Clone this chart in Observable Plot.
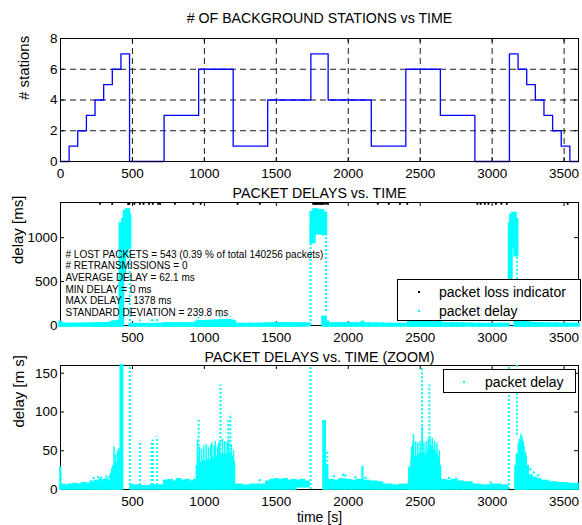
<!DOCTYPE html>
<html><head><meta charset="utf-8">
<script src="https://cdn.jsdelivr.net/npm/d3@7"></script>
<script src="https://cdn.jsdelivr.net/npm/@observablehq/plot@0.6"></script>
<style>
body{margin:0;background:#fff;}
#wrap{position:relative;width:582px;height:525px;overflow:hidden;background:#fff;font-family:"Liberation Sans",Arial,sans-serif;}
.panel{position:absolute;left:0;}
.legend{position:absolute;border:1px solid #000;background:#fff;box-sizing:border-box;}
.legend .mk{position:absolute;width:2px;height:2px;}
.legend .tx{position:absolute;font-size:14px;line-height:16px;white-space:nowrap;color:#000;}
</style></head><body><div id="wrap"></div>
<script>
// ---------- data ----------
const titles = ["# OF BACKGROUND STATIONS vs TIME", "PACKET DELAYS vs. TIME", "PACKET DELAYS vs. TIME (ZOOM)"];
const yLabels = ["# stations", "delay [ms]", "delay [m s]"];
const xLabel = "time [s]";

const xTicksTop = [0, 500, 1000, 1500, 2000, 2500, 3000, 3500];
const xTicksLower = [500, 1000, 1500, 2000, 2500, 3000, 3500];
const yTicksStations = [0, 2, 4, 6, 8];
const yTicksDelay = [0, 500, 1000];
const yTicksZoom = [0, 50, 100, 150];

const stationTimes  = [0, 60, 120, 180, 240, 300, 360, 420, 480, 720, 960, 1200, 1440, 1740, 1860, 2160, 2400, 2640, 2880, 3120, 3180, 3240, 3300, 3360, 3420, 3480, 3540, 3600];
const stationCounts = [0, 1, 2, 3, 4, 5, 6, 7, 0, 3, 6, 1, 4, 7, 4, 1, 6, 3, 0, 7, 6, 5, 4, 3, 2, 1, 0, 0];

// dense clouds of packet delays: [t start, t end, low ms, high ms]
const delayBands = [
  [0,4,0,28],[4,30,0,6],[30,60,0,5],[60,90,0,6],[90,120,0,7],[120,150,0,6],[150,180,0,8],[180,210,0,7],
  [210,225,0,10],[225,240,0,8],[240,255,0,11],[255,270,0,9],[270,285,0,12],[285,300,0,10],[300,315,0,12],
  [315,330,0,13],[330,350,0,11],[350,360,0,20],[360,368,0,26],[368,376,0,30],[376,384,0,28],[384,392,0,33],
  [392,400,0,30],[400,408,0,34],[408,419,0,32],
  [419,435,0,1150],[436,448,600,1200],[448,462,800,1290],[462,476,880,1310],[476,484,900,1250],
  [488,500,0,6],[500,560,0,5],[560,620,0,4],[620,680,0,5],[680,720,0,5],
  [720,750,0,11],[750,780,0,12],[780,810,0,10],[810,840,0,13],[840,870,0,11],[870,900,0,12],[900,930,0,10],[930,948,0,12],
  [948,960,0,30],[960,975,0,34],[975,990,0,30],[990,1005,0,36],[1005,1020,0,32],[1020,1035,0,38],[1035,1050,0,35],
  [1050,1065,0,40],[1065,1080,0,36],[1080,1095,0,42],[1095,1110,0,38],[1110,1125,0,44],[1125,1140,0,40],
  [1140,1155,0,45],[1155,1170,0,40],[1170,1185,0,46],[1185,1200,0,42],[1200,1212,0,35],
  [1212,1260,0,6],[1260,1320,0,5],[1320,1380,0,6],[1380,1430,0,6],
  [1430,1460,0,10],[1460,1490,0,12],[1490,1520,0,13],[1520,1550,0,12],[1550,1580,0,13],[1580,1610,0,11],
  [1610,1640,0,12],[1640,1670,3,11],[1670,1700,3,12],[1700,1730,3,10],
  [1746,1765,950,1280],[1765,1785,1080,1310],[1785,1805,1050,1290],[1805,1825,1070,1300],[1825,1845,1040,1270],
  [1828,1843,0,88],[1843,1860,0,30],
  [1860,1900,0,12],[1900,1940,0,11],[1940,1980,0,13],[1980,2020,0,12],[2020,2060,0,11],[2060,2100,0,12],
  [2100,2104,0,29],[2104,2150,0,11],[2150,2200,0,10],[2200,2241,0,9],[2241,2300,0,6],[2300,2360,0,5],[2360,2425,0,6],
  [2425,2440,0,28],[2440,2455,0,38],[2455,2470,0,42],[2470,2485,0,40],[2485,2500,0,44],[2500,2515,0,46],
  [2515,2530,0,45],[2530,2545,0,42],[2545,2560,0,46],[2560,2575,0,52],[2575,2590,0,55],[2590,2605,0,50],
  [2605,2620,0,45],[2620,2635,0,40],[2635,2644,0,30],
  [2644,2680,0,12],[2680,2720,0,11],[2720,2760,0,12],[2760,2800,0,10],[2800,2863,0,9],[2863,2920,0,6],
  [2920,3000,0,5],[3000,3060,0,6],[3060,3112,0,5],
  [3124,3134,500,1150],[3134,3148,900,1250],[3148,3162,950,1270],[3162,3174,800,1200],
  [3162,3172,0,30],[3172,3185,0,45],[3185,3198,0,58],[3198,3212,0,62],[3212,3225,0,55],[3225,3240,0,42],[3240,3254,0,30],
  [3254,3280,0,18],[3280,3310,0,15],[3310,3340,0,13],[3340,3393,0,11],[3393,3450,0,9],[3450,3520,0,8],[3520,3600,0,7]
];
// dense vertical streaks: [t, high ms]
const delayStreaks = [
  [372,55],[380,45],[395,50],[405,53],[412,48],
  [952,64],[965,55],[980,52],[996,56],[1012,58],[1028,54],[1044,57],[1052,60],[1068,56],[1076,62],[1092,55],
  [1100,60],[1108,63],[1126,65],[1142,62],[1158,60],[1168,64],[1186,58],[1202,50],
  [2440,55],[2448,60],[2453,71],[2468,62],[2484,60],[2500,62],[2514,80],[2526,60],[2542,62],[2556,65],[2568,68],
  [2584,66],[2600,62],[2616,60],[2632,50],
  [3190,65],[3200,71],[3208,68],[3216,62],[3232,48]
];
// sparse dotted columns: [t, low ms, high ms]
const delayDotted = [
  [482,0,1250],[552,0,62],[633,0,62],[642,0,64],[672,0,68],[960,30,92],[1112,40,135],[1166,45,90],[1180,45,97],
  [1738,0,1150],[1846,160,1050],[1854,30,49],[2512,45,157],[2563,50,135],[3116,0,1000],[3172,70,800]
];
// isolated packets: [t, ms]
const delayDots = [
  [0,20],[2,14],[230,15],[262,16],[281,15],[320,17],[340,16],[1385,12],[1900,17],[1965,19],[1980,18],
  [2050,16],[2120,15],[2700,15],[2750,14],[2990,9],[3265,26],[3290,22],[3320,18]
];
const lossTimes = [275,359,470,474,478,513,551,577,615,641,679,692,795,923,974,1231,1385,1756,1765,1772,1780,
  1788,1796,1805,1812,1820,1830,1845,1859,2205,2282,2359,2410,2897,2920,2949,2974,3026,3064,3102,3525];
const lossLevel = 1385;

const statsLines = [
  "# LOST PACKETS = 543 (0.39 % of total 140256 packets)",
  "# RETRANSMISSIONS = 0",
  "AVERAGE DELAY = 62.1 ms",
  "MIN DELAY = 0 ms",
  "MAX DELAY = 1378 ms",
  "STANDARD DEVIATION = 239.8 ms"
];
const legendMid = [{label: "packet loss indicator", color: "#000"}, {label: "packet delay", color: "#00ffff"}];
const legendZoom = [{label: "packet delay", color: "#00ffff"}];

// ---------- drawing ----------
const cyan = "#00ffff", blue = "#0000ff";
const FONT = '"Liberation Sans", Arial, sans-serif';
const W = 582, ML = 60, MR = 4;
const wrap = document.getElementById("wrap");

function frameMarks(xTicks, yTicks, fw, fh) {
  return [
    Plot.tickX(xTicks, {x: d => d, insetTop: fh - 4, stroke: "#000"}),
    Plot.tickX(xTicks, {x: d => d, insetBottom: fh - 4, stroke: "#000"}),
    Plot.tickY(yTicks, {y: d => d, insetRight: fw - 4, stroke: "#000"}),
    Plot.tickY(yTicks, {y: d => d, insetLeft: fw - 4, stroke: "#000"})
  ];
}
function labelMarks(xTicks, yTicks, title, titleDy, ylabel, ylabelDx) {
  return [
    Plot.text(xTicks, {x: d => d, frameAnchor: "bottom", lineAnchor: "middle", dy: 12, text: d => String(d), fontSize: 13.5, fill: "#000"}),
    Plot.text(yTicks, {y: d => d, frameAnchor: "left", dx: -3, textAnchor: "end", text: d => String(d), fontSize: 13.5, fill: "#000"}),
    Plot.text([title], {frameAnchor: "top", lineAnchor: "middle", dy: titleDy, fontSize: 14.2, fill: "#000"}),
    Plot.text([ylabel], {frameAnchor: "left", dx: ylabelDx, rotate: -90, fontSize: 15, fill: "#000"})
  ];
}
function delayMarks(ymax, sw) {
  const cl = v => Math.min(v, ymax);
  return [
    Plot.rect(delayBands.filter(d => d[2] < ymax), {x1: d => d[0], x2: d => d[1], y1: d => d[2], y2: d => cl(d[3]), fill: cyan, stroke: cyan, strokeWidth: sw}),
    Plot.ruleX(delayStreaks, {x: d => d[0], y1: 0, y2: d => cl(d[1]), stroke: cyan, strokeWidth: 1.5}),
    Plot.ruleX(delayDotted.filter(d => d[1] < ymax), {x: d => d[0], y1: d => d[1], y2: d => cl(d[2]), stroke: cyan, strokeWidth: 2, strokeDasharray: "2,2"}),
    Plot.dot(delayDots, {x: d => d[0], y: d => d[1], r: 1.2, fill: cyan})
  ];
}
function place(svg, top) {
  const d = document.createElement("div");
  d.className = "panel"; d.style.top = top + "px";
  d.appendChild(svg); wrap.appendChild(d);
}
const style = {fontFamily: FONT, background: "transparent", overflow: "visible"};

// panel 1
{
  const H = 183, MT = 38, MB = 22, fw = W - ML - MR, fh = H - MT - MB;
  const stations = stationTimes.map((t, i) => ({t, n: stationCounts[i]}));
  const svg = Plot.plot({
    width: W, height: H, marginLeft: ML, marginRight: MR, marginTop: MT, marginBottom: MB, style,
    x: {domain: [0, 3600], axis: null}, y: {domain: [0, 8], axis: null},
    marks: [
      Plot.ruleX(xTicksTop.filter(d => d > 0), {x: d => d, stroke: "#000", strokeDasharray: "6,4", strokeWidth: 0.9}),
      Plot.ruleY(yTicksStations.filter(d => d > 0 && d < 8), {y: d => d, stroke: "#000", strokeDasharray: "6,4", strokeWidth: 0.9}),
      Plot.line(stations, {x: "t", y: "n", curve: "step-after", stroke: blue, strokeWidth: 1.3}),
      Plot.frame({stroke: "#000"}),
      ...frameMarks(xTicksTop, yTicksStations, fw, fh),
      ...labelMarks(xTicksTop, yTicksStations, titles[0], -20, yLabels[0], -36)
    ]
  });
  place(svg, 0);
}
// panel 2
{
  const H = 167, MT = 19, MB = 25, fw = W - ML - MR, fh = H - MT - MB;
  const svg = Plot.plot({
    width: W, height: H, marginLeft: ML, marginRight: MR, marginTop: MT, marginBottom: MB, style,
    x: {domain: [0, 3600], axis: null}, y: {domain: [0, 1400], axis: null},
    marks: [
      Plot.frame({stroke: "#000"}),
      ...frameMarks(xTicksLower, yTicksDelay, fw, fh),
      ...delayMarks(1400, 3.5),
      Plot.dot(lossTimes, {x: d => d, y: lossLevel, r: 1.1, fill: "#000"}),
      Plot.text([statsLines.join("\n")], {frameAnchor: "left", dx: 5, dy: 19, textAnchor: "start", lineHeight: 1.17, fontSize: 10, fill: "#000"}),
      ...labelMarks(xTicksLower, yTicksDelay, titles[1], -9, yLabels[1], -42)
    ]
  });
  place(svg, 183);
}
// panel 3
{
  const H = 175, MT = 15, MB = 36, fw = W - ML - MR, fh = H - MT - MB;
  const svg = Plot.plot({
    width: W, height: H, marginLeft: ML, marginRight: MR, marginTop: MT, marginBottom: MB, style,
    x: {domain: [0, 3600], axis: null}, y: {domain: [0, 160], axis: null},
    marks: [
      Plot.frame({stroke: "#000"}),
      ...frameMarks(xTicksLower, yTicksZoom, fw, fh),
      ...delayMarks(160, 1.6),
      ...labelMarks(xTicksLower, yTicksZoom, titles[2], -8, yLabels[2], -41),
      Plot.text([xLabel], {frameAnchor: "bottom", lineAnchor: "middle", dy: 28, fontSize: 14, fill: "#000"})
    ]
  });
  place(svg, 350);
}
// legends
function legend(items, box, mkX, txX, rowYs) {
  const d = document.createElement("div");
  d.className = "legend";
  Object.assign(d.style, {left: box[0] + "px", top: box[1] + "px", width: box[2] + "px", height: box[3] + "px"});
  items.forEach((it, i) => {
    const m = document.createElement("div"); m.className = "mk";
    Object.assign(m.style, {left: (mkX - 1) + "px", top: (rowYs[i] - 1) + "px", background: it.color});
    const t = document.createElement("div"); t.className = "tx"; t.textContent = it.label;
    Object.assign(t.style, {left: txX + "px", top: (rowYs[i] - 8) + "px"});
    d.appendChild(m); d.appendChild(t);
  });
  wrap.appendChild(d);
}
legend(legendMid, [397, 279, 184, 42], 21, 41, [12, 31]);
legend(legendZoom, [443, 369, 133, 24], 20, 41, [12]);
</script></body></html>
